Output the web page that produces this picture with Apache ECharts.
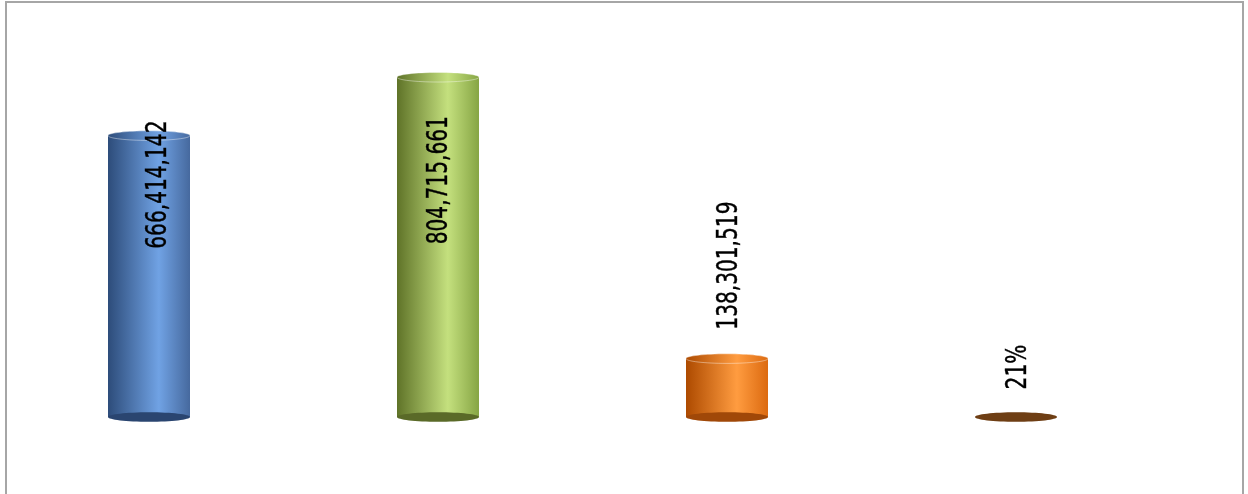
<!DOCTYPE html>
<html>
<head>
<meta charset="utf-8">
<style>
  html, body { margin: 0; padding: 0; background: #ffffff; }
  #frame {
    position: absolute; left: 5px; top: 1px; width: 1239px; height: 500px;
    border: 2px solid #a6a6a6; border-bottom: none; box-sizing: border-box;
  }
  #chart { position: absolute; left: 0; top: 0; width: 1248px; height: 494px; }
</style>
<script src="https://cdn.jsdelivr.net/npm/echarts@6/dist/echarts.min.js"></script>
</head>
<body>
<div id="frame"></div>
<div id="chart"></div>
<script>
// Values shown on the four cylinders
const categories = ['A', 'B', 'C', 'D'];
const values = [666414142, 804715661, 138301519, 0.21];
const labels = ['666,414,142', '804,715,661', '138,301,519', '21%'];

// Cylinder colours: [dark edge, highlight, right edge, base cap]
const palette = [
  ['#2d4c7a', '#70a2e4', '#46699e', '#2a4570'],
  ['#5f7328', '#c4e07e', '#86a544', '#5a6a28'],
  ['#ad4a00', '#ff9c40', '#dc6a10', '#a04808'],
  ['#6a3a12', '#946030', '#7e4a1c', '#6e3e14']
];

// Label centre offset from the top of each cylinder, in pixels
const labelOffset = [[10, 49], [2, 103], [3, -93], [3, -50]];

const FONT = '"DejaVu Sans Condensed", "Liberation Sans Narrow", sans-serif';

function hGrad(c) {
  return new echarts.graphic.LinearGradient(0, 0, 1, 0, [
    { offset: 0, color: c[0] },
    { offset: 0.62, color: c[1] },
    { offset: 1, color: c[2] }
  ]);
}

function renderCylinder(params, api) {
  const i = params.dataIndex;
  const val = api.value(1);
  const top = api.coord([api.value(0), val]);
  const base = api.coord([api.value(0), 0]);
  const w = 82;
  const ry = 4.8;
  const cx = top[0];
  const c = palette[i];
  const children = [];
  const h = base[1] - top[1];
  if (h > 0.5) {
    children.push({
      type: 'rect',
      shape: { x: cx - w / 2, y: top[1], width: w, height: h },
      style: { fill: hGrad(c) }
    });
  }
  // base cap
  children.push({
    type: 'ellipse',
    shape: { cx: cx, cy: base[1], rx: w / 2, ry: ry },
    style: { fill: c[3] }
  });
  if (h > 0.5) {
    // top cap
    children.push({
      type: 'ellipse',
      shape: { cx: cx, cy: top[1], rx: w / 2, ry: ry },
      style: {
        fill: hGrad(c),
        stroke: 'rgba(255,255,255,0.4)',
        lineWidth: 1
      }
    });
  }
  const off = labelOffset[i];
  children.push({
    type: 'text',
    x: cx + off[0],
    y: top[1] + off[1],
    rotation: Math.PI / 2,
    scaleX: 0.8,
    style: {
      text: labels[i],
      fill: '#000000',
      stroke: '#000000',
      lineWidth: 0.4,
      font: '28px ' + FONT,
      align: 'center',
      verticalAlign: 'middle'
    }
  });
  return { type: 'group', children: children };
}

const chart = echarts.init(document.getElementById('chart'), null, { renderer: 'canvas' });
chart.setOption({
  animation: false,
  backgroundColor: 'transparent',
  grid: { left: 4.5, width: 1156, top: 37, height: 380 },
  xAxis: {
    type: 'category',
    data: categories,
    show: false
  },
  yAxis: {
    type: 'value',
    min: 0,
    max: 900000000,
    show: false
  },
  series: [{
    type: 'custom',
    renderItem: renderCylinder,
    data: values.map((v, i) => [i, v]),
    clip: false
  }]
});
</script>
</body>
</html>
